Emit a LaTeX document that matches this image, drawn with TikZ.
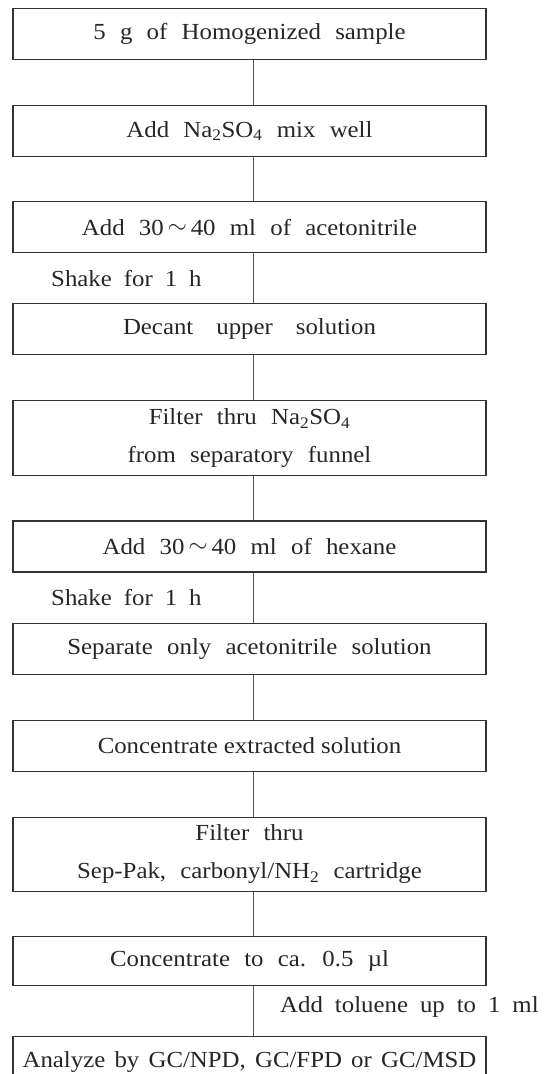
\documentclass[tikz,border=0pt]{standalone}
\usepackage{fontspec}
\setmainfont[FakeStretch=1.08]{Liberation Serif}
\usetikzlibrary{positioning}
\newcommand{\sub}[1]{\textsubscript{#1}}
\newcommand{\tl}{\,\raisebox{0.15ex}{$\sim$}\,}
\newcommand{\widesp}[1]{\spaceskip #1em plus 0.1em\relax}

\begin{document}
\begin{tikzpicture}[
  x=1pt,y=-1pt,
  node distance=45pt,
  stepbox/.style={draw=black!80,line width=1.1pt,minimum width=473pt,minimum height=51pt,
    inner sep=0pt,align=center,text=black!85,
    font=\fontsize{23}{38}\selectfont\widesp{0.62}},
  tallbox/.style={stepbox,minimum height=75pt},
  note/.style={anchor=west,inner sep=0pt,text=black!85,
    font=\fontsize{23}{26}\selectfont\widesp{0.52}},
  link/.style={draw=black!65,line width=0.8pt}]
\useasboundingbox (0,0) rectangle (545,1074);
\node[stepbox] (sample) at (249.5,34) {5 g of Homogenized sample};
\node[stepbox,below=of sample] (sulfate) {Add Na\sub{2}SO\sub{4} mix well};
\node[stepbox,below=44pt of sulfate] (acn) {Add 30\tl40 ml of acetonitrile};
\node[stepbox,below=50pt of acn,font=\fontsize{23}{26}\selectfont\widesp{1.0}] (decant) {Decant upper solution};
\node[tallbox,below=of decant] (filter1) {Filter thru Na\sub{2}SO\sub{4}\\from separatory funnel};
\node[stepbox,below=44pt of filter1] (hexane) {Add 30\tl40 ml of hexane};
\node[stepbox,below=50pt of hexane] (separate) {Separate only acetonitrile solution};
\node[stepbox,below=of separate,font=\fontsize{23}{26}\selectfont] (conc1) {Concentrate extracted solution};
\node[tallbox,minimum height=74pt,below=of conc1] (filter2) {Filter thru\\Sep-Pak, carbonyl/NH\sub{2} cartridge};
\node[stepbox,minimum height=49pt,below=44pt of filter2] (conc2) {Concentrate to ca. 0.5 µl};
\node[stepbox,below=50pt of conc2,font=\fontsize{23}{26}\selectfont\widesp{0.4}] (analyze) {Analyze by GC/NPD, GC/FPD or GC/MSD};
% side notes
\node[note] (shake1) at (51,279) {Shake for 1 h};
\node[note] (shake2) at (51,598) {Shake for 1 h};
\node[note] (toluene) at (280,1007) {Add toluene up to 1 ml};
% connectors
\draw[link] ([xshift=4pt]sample.south) -- ([xshift=4pt]sulfate.north);
\draw[link] ([xshift=4pt]sulfate.south) -- ([xshift=4pt]acn.north);
\draw[link] ([xshift=4pt]acn.south) -- ([xshift=4pt]decant.north);
\draw[link] ([xshift=4pt]decant.south) -- ([xshift=4pt]filter1.north);
\draw[link] ([xshift=4pt]filter1.south) -- ([xshift=4pt]hexane.north);
\draw[link] ([xshift=4pt]hexane.south) -- ([xshift=4pt]separate.north);
\draw[link] ([xshift=4pt]separate.south) -- ([xshift=4pt]conc1.north);
\draw[link] ([xshift=4pt]conc1.south) -- ([xshift=4pt]filter2.north);
\draw[link] ([xshift=4pt]filter2.south) -- ([xshift=4pt]conc2.north);
\draw[link] ([xshift=4pt]conc2.south) -- ([xshift=4pt]analyze.north);
\end{tikzpicture}
\end{document}
